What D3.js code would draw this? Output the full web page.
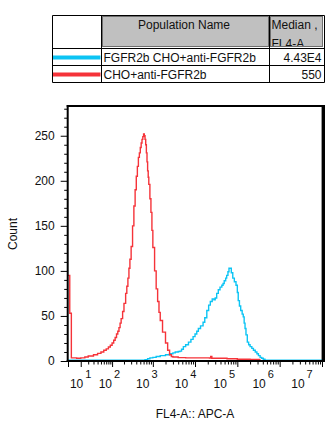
<!DOCTYPE html>
<html>
<head>
<meta charset="utf-8">
<script src="https://d3js.org/d3.v7.min.js"></script>
<style>
body { margin: 0; background: #fff; }
svg text { font-family: "Liberation Sans", Arial, sans-serif; font-size: 12px; fill: #111; }
</style>
</head>
<body>
<script>
//wrap everything in a self-executing anonymous function
(function(){

//population table contents
var popNames = ["FGFR2b CHO+anti-FGFR2b", "CHO+anti-FGFR2b"];
var popMedians = ["4.43E4", "550"];
var headerName = "Population Name";
var headerStat = ["Median ,", "FL4-A"];

//axis ticks and labels
var countTicks = [0, 50, 100, 150, 200, 250];
var decadeTicks = [10, 100, 1000, 10000, 100000, 1000000, 10000000];
var decadeExps = ["1", "2", "3", "4", "5", "6", "7"];
var xTitle = "FL4-A:: APC-A";
var yTitle = "Count";

//histogram bins: [FL4-A bin start, count]
var cyanHist = [
	[0, 1], [650, 1.5], [750, 2.5], [850, 3.5], [1000, 4], [1200, 5], [1500, 6],
	[2000, 7], [2500, 8], [3000, 9], [3400, 10], [4000, 10.5], [4400, 11], [4800, 13],
	[5300, 16], [6000, 18], [7000, 21], [8000, 24], [9000, 27], [10000, 30], [11000, 33],
	[12000, 36], [13500, 39], [15500, 43], [17000, 48], [19000, 56], [21000, 62],
	[23000, 66], [25500, 69], [28000, 68], [30000, 70], [32500, 75], [35500, 79],
	[39000, 82], [43000, 84], [46000, 86], [49000, 89], [53000, 92], [56000, 95],
	[60000, 99], [63500, 103], [68000, 103], [72000, 98], [78000, 92], [85000, 88],
	[93000, 84], [100000, 76], [105000, 67], [112000, 61], [120000, 56], [130000, 52],
	[138000, 49], [145000, 42], [152000, 36], [160000, 29], [172000, 21], [185000, 18],
	[200000, 16], [220000, 14], [240000, 12], [265000, 10], [290000, 8], [315000, 6],
	[345000, 4], [375000, 3], [410000, 2], [450000, 1], [10000000, 1]
];
var redHist = [
	[0, 95], [1, 53], [2, 3.5], [6, 3], [10, 3.5], [15, 4.5], [20, 5.5], [30, 7],
	[40, 8.5], [50, 10], [60, 12], [70, 13.5], [80, 15.5], [90, 17.5], [100, 20],
	[110, 23], [120, 26], [130, 30], [140, 33], [150, 37], [160, 42], [170, 47],
	[185, 55], [200, 64], [220, 75], [235, 83], [250, 92], [265, 103], [280, 113],
	[300, 127], [325, 150], [350, 172], [375, 190], [400, 205], [425, 216], [450, 226],
	[475, 231], [500, 237], [525, 242], [550, 246], [575, 249], [600, 252], [625, 250],
	[650, 246], [675, 240], [700, 231], [725, 221], [750, 211], [775, 204], [800, 196],
	[850, 180], [900, 165], [950, 145], [1000, 126], [1100, 100], [1200, 80], [1300, 66],
	[1400, 54], [1500, 45], [1700, 32], [2000, 20], [2250, 12], [2500, 7], [2750, 5],
	[3000, 4.5], [4000, 3.8], [6000, 3.5], [16000, 3.5], [22000, 3.3], [23500, 5],
	[25000, 3], [40000, 3], [57000, 2.5], [100000, 2], [200000, 1.8], [340000, 0],
	[10000000, 0]
];

var popColors = ["#0cc4f4", "#f53339"];

window.onload = setChart();

function setChart(){
	var width = 335,
		height = 436;

	var svg = d3.select("body")
		.append("svg")
		.attr("width", width)
		.attr("height", height);

	setTable(svg);

	//plot frame
	var left = 67.7, right = 323.3, top = 106, bottom = 361;

	//biexponential-like x scale and linear count scale
	var x = d3.scaleSymlog()
		.constant(10)
		.domain([0, 1e7])
		.range([68, 322]);
	var xLabel = x.copy().range([69, 302]);
	var y = d3.scaleLinear()
		.domain([0, 283])
		.range([361, 106]);

	svg.append("clipPath")
		.attr("id", "plotClip")
		.append("rect")
		.attr("x", left)
		.attr("y", top)
		.attr("width", right - left)
		.attr("height", bottom - top);

	//histogram lines
	var line = d3.line()
		.x(function(d){ return x(d[0]); })
		.y(function(d){ return y(d[1]); })
		.curve(d3.curveStepAfter);

	svg.selectAll(".hist")
		.data([cyanHist, redHist])
		.enter()
		.append("path")
		.attr("class", "hist")
		.attr("clip-path", "url(#plotClip)")
		.attr("d", line)
		.attr("fill", "none")
		.attr("stroke", function(d, i){ return popColors[i]; })
		.attr("stroke-width", 1.4);

	//y axis, major and minor ticks
	var minorCounts = d3.range(10, 283, 10).filter(function(v){ return v % 50 != 0; });
	var yMajor = svg.append("g")
		.attr("transform", "translate(" + left + ",0)")
		.call(d3.axisLeft(y).tickValues(countTicks).tickSize(7).tickPadding(6));
	var yMinor = svg.append("g")
		.attr("transform", "translate(" + left + ",0)")
		.call(d3.axisLeft(y).tickValues(minorCounts).tickSize(3.5).tickFormat(""));

	//x axis, decades plus minor ticks
	var minorVals = [];
	decadeTicks.slice(0, -1).forEach(function(dec){
		for (var m=2; m<10; m++) minorVals.push(dec * m);
	});
	var xMajor = svg.append("g")
		.attr("transform", "translate(0," + bottom + ")")
		.call(d3.axisBottom(x).tickValues([0].concat(decadeTicks)).tickSize(6).tickFormat(""));
	var xMinor = svg.append("g")
		.attr("transform", "translate(0," + bottom + ")")
		.call(d3.axisBottom(x).tickValues(minorVals).tickSize(3.5).tickFormat(""));

	[yMajor, yMinor, xMajor, xMinor].forEach(function(g){
		g.select(".domain").remove();
		g.selectAll("line").attr("stroke", "#000");
		g.selectAll("text").attr("font-family", null).attr("font-size", null).attr("fill", "#111");
	});

	//power-of-ten labels
	var decLabels = svg.selectAll(".decLabel")
		.data(decadeTicks)
		.enter()
		.append("text")
		.attr("class", "decLabel")
		.attr("x", function(d){ return xLabel(d); })
		.attr("y", 388)
		.attr("text-anchor", "middle");
	decLabels.append("tspan").text("10");
	decLabels.append("tspan")
		.attr("dx", 2)
		.attr("dy", -10)
		.style("font-size", "11px")
		.text(function(d, i){ return decadeExps[i]; });

	//frame
	svg.append("line").attr("x1", left).attr("x2", left).attr("y1", 105).attr("y2", 362)
		.attr("stroke", "#000").attr("stroke-width", 2);
	svg.append("line").attr("x1", left - 1).attr("x2", right + 1.7).attr("y1", top).attr("y2", top)
		.attr("stroke", "#000").attr("stroke-width", 2);
	svg.append("line").attr("x1", left - 1).attr("x2", right + 1.7).attr("y1", bottom).attr("y2", bottom)
		.attr("stroke", "#000").attr("stroke-width", 2);
	svg.append("line").attr("x1", right).attr("x2", right).attr("y1", 105).attr("y2", 362)
		.attr("stroke", "#000").attr("stroke-width", 3.4);

	//axis titles
	svg.append("text")
		.attr("x", 195)
		.attr("y", 418)
		.attr("text-anchor", "middle")
		.text(xTitle);
	svg.append("text")
		.attr("transform", "translate(17,234) rotate(-90)")
		.attr("text-anchor", "middle")
		.text(yTitle);
};

//population table with legend swatches
function setTable(svg){
	var cols = [52.5, 101.5, 269.5, 324.5],
		rows = [15.5, 48.5, 65.5, 82.5];

	//header cells
	svg.append("rect")
		.attr("x", 102.5).attr("y", 16.5).attr("width", 166).attr("height", 30)
		.attr("fill", "#c0c0c0").attr("stroke", "#6e6e6e");
	svg.append("rect")
		.attr("x", 270.5).attr("y", 16.5).attr("width", 52).attr("height", 30)
		.attr("fill", "#c0c0c0").attr("stroke", "#6e6e6e");

	svg.append("text")
		.attr("x", 184).attr("y", 29)
		.attr("text-anchor", "middle")
		.text(headerName);

	svg.append("clipPath")
		.attr("id", "statClip")
		.append("rect")
		.attr("x", 270).attr("y", 16).attr("width", 53).attr("height", 30);
	svg.append("g")
		.attr("clip-path", "url(#statClip)")
		.selectAll("text")
		.data(headerStat)
		.enter()
		.append("text")
		.attr("x", 271.5)
		.attr("y", function(d, i){ return 29 + i * 19; })
		.text(function(d){ return d; });

	//grid lines
	svg.selectAll(".vline")
		.data(cols)
		.enter()
		.append("line")
		.attr("x1", function(d){ return d; })
		.attr("x2", function(d){ return d; })
		.attr("y1", rows[0]).attr("y2", rows[3])
		.attr("stroke", "#000");
	svg.selectAll(".hline")
		.data(rows)
		.enter()
		.append("line")
		.attr("y1", function(d){ return d; })
		.attr("y2", function(d){ return d; })
		.attr("x1", cols[0]).attr("x2", cols[3])
		.attr("stroke", "#000");

	//population rows
	popNames.forEach(function(name, i){
		var y0 = rows[i + 1], y1 = rows[i + 2];
		svg.append("line")
			.attr("x1", 53).attr("x2", 100.5)
			.attr("y1", (y0 + y1) / 2 + 0.5).attr("y2", (y0 + y1) / 2 + 0.5)
			.attr("stroke", popColors[i])
			.attr("stroke-width", 4);
		svg.append("text")
			.attr("x", 103.5).attr("y", y1 - 4)
			.text(name);
		svg.append("text")
			.attr("x", 321.5).attr("y", y1 - 4)
			.attr("text-anchor", "end")
			.text(popMedians[i]);
	});
};

})();
</script>
</body>
</html>
